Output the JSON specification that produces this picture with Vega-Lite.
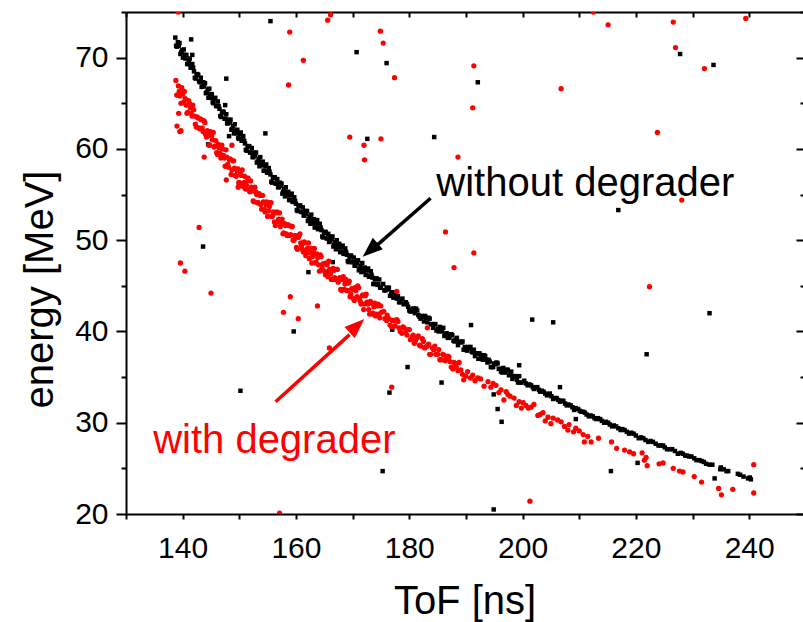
{
"$schema":"https://vega.github.io/schema/vega-lite/v6.json",
"width":677,"height":502,
"autosize":{"type":"none"},
"padding":{"left":126,"top":12,"right":0,"bottom":108},
"background":"white",
"config":{"view":{"stroke":null},"font":"Liberation Sans","axis":{"labelFont":"Liberation Sans","titleFont":"Liberation Sans","labelColor":"#000000","titleColor":"#000000","tickColor":"#000000","domainColor":"#000000","grid":false}},
"datasets":{
"black":[
{"t":138.7,"e":72.2},{"t":139.0,"e":71.2},{"t":139.3,"e":71.3},{"t":139.6,"e":70.4},{"t":139.9,"e":70.8},{"t":140.2,"e":70.9},{"t":140.5,"e":69.9},{"t":140.8,"e":69.3},{"t":141.1,"e":69.7},{"t":141.4,"e":68.9},{"t":141.7,"e":69.3},{"t":142.0,"e":68.5},{"t":142.3,"e":67.7},{"t":142.6,"e":68.2},{"t":142.9,"e":67.4},{"t":143.2,"e":67.8},{"t":143.5,"e":66.8},{"t":143.8,"e":66.9},{"t":144.1,"e":66.1},{"t":144.4,"e":66.5},{"t":144.7,"e":66.6},{"t":145.0,"e":65.6},{"t":145.3,"e":65.1},{"t":145.6,"e":65.5},{"t":145.9,"e":64.7},{"t":146.2,"e":65.2},{"t":146.5,"e":64.4},{"t":146.8,"e":63.5},{"t":147.1,"e":64.1},{"t":147.4,"e":63.3},{"t":147.7,"e":63.8},{"t":148.0,"e":62.8},{"t":148.3,"e":62.9},{"t":148.6,"e":62.1},{"t":148.9,"e":62.5},{"t":149.2,"e":62.7},{"t":149.5,"e":61.7},{"t":149.8,"e":61.2},{"t":150.1,"e":61.6},{"t":150.4,"e":60.9},{"t":150.7,"e":61.4},{"t":151.0,"e":60.6},{"t":151.3,"e":59.8},{"t":151.6,"e":60.3},{"t":151.9,"e":59.6},{"t":152.2,"e":60.1},{"t":152.5,"e":59.1},{"t":152.8,"e":59.3},{"t":153.1,"e":58.5},{"t":153.4,"e":58.9},{"t":153.7,"e":59.1},{"t":154.0,"e":58.2},{"t":154.3,"e":57.6},{"t":154.6,"e":58.1},{"t":154.9,"e":57.4},{"t":155.2,"e":57.9},{"t":155.5,"e":57.2},{"t":155.8,"e":56.3},{"t":156.1,"e":56.9},{"t":156.4,"e":56.2},{"t":156.7,"e":56.7},{"t":157.0,"e":55.8},{"t":157.3,"e":56.0},{"t":157.6,"e":55.1},{"t":157.9,"e":55.6},{"t":158.2,"e":55.8},{"t":158.5,"e":54.9},{"t":158.8,"e":54.4},{"t":159.1,"e":54.9},{"t":159.4,"e":54.2},{"t":159.7,"e":54.7},{"t":160.0,"e":54.0},{"t":160.3,"e":53.2},{"t":160.6,"e":53.8},{"t":160.9,"e":53.1},{"t":161.2,"e":53.6},{"t":161.5,"e":52.7},{"t":161.8,"e":52.9},{"t":162.1,"e":52.1},{"t":162.4,"e":52.6},{"t":162.7,"e":52.8},{"t":163.0,"e":51.9},{"t":163.3,"e":51.4},{"t":163.6,"e":51.9},{"t":163.9,"e":51.2},{"t":164.2,"e":51.8},{"t":164.5,"e":51.1},{"t":164.8,"e":50.3},{"t":165.1,"e":50.9},{"t":165.4,"e":50.2},{"t":165.7,"e":50.7},{"t":166.0,"e":49.9},{"t":166.3,"e":50.1},{"t":166.6,"e":49.3},{"t":166.9,"e":49.8},{"t":167.2,"e":50.0},{"t":167.5,"e":49.2},{"t":167.8,"e":48.7},{"t":168.1,"e":49.2},{"t":168.4,"e":48.5},{"t":168.7,"e":49.1},{"t":169.0,"e":48.4},{"t":169.3,"e":47.6},{"t":169.6,"e":48.3},{"t":169.9,"e":47.6},{"t":170.2,"e":48.1},{"t":170.5,"e":47.2},{"t":170.8,"e":47.5},{"t":171.1,"e":46.7},{"t":171.4,"e":47.2},{"t":171.7,"e":47.5},{"t":172.0,"e":46.6},{"t":172.3,"e":46.2},{"t":172.6,"e":46.7},{"t":172.9,"e":46.0},{"t":173.2,"e":46.6},{"t":173.5,"e":45.9},{"t":173.8,"e":45.2},{"t":174.1,"e":45.8},{"t":174.4,"e":45.1},{"t":174.7,"e":45.7},{"t":175.0,"e":44.8},
{"t":138.85,"e":71.3},{"t":139.15,"e":71.7},{"t":139.45,"e":71.6},{"t":139.75,"e":70.6},{"t":140.05,"e":70.0},{"t":140.35,"e":70.3},{"t":140.65,"e":70.3},{"t":140.95,"e":69.3},{"t":141.25,"e":69.9},{"t":141.55,"e":68.9},{"t":141.85,"e":68.9},{"t":142.15,"e":67.8},{"t":142.45,"e":68.1},{"t":142.75,"e":68.1},{"t":143.05,"e":67.3},{"t":143.35,"e":66.8},{"t":143.65,"e":67.3},{"t":143.95,"e":67.2},{"t":144.25,"e":66.2},{"t":144.55,"e":65.6},{"t":144.85,"e":66.0},{"t":145.15,"e":66.0},{"t":145.45,"e":65.0},{"t":145.75,"e":65.6},{"t":146.05,"e":64.7},{"t":146.35,"e":64.7},{"t":146.65,"e":63.6},{"t":146.95,"e":64.0},{"t":147.25,"e":64.0},{"t":147.55,"e":63.3},{"t":147.85,"e":62.8},{"t":148.15,"e":63.2},{"t":148.45,"e":63.2},{"t":148.75,"e":62.2},{"t":149.05,"e":61.7},{"t":149.35,"e":62.0},{"t":149.65,"e":62.1},{"t":149.95,"e":61.1},{"t":150.25,"e":61.8},{"t":150.55,"e":60.9},{"t":150.85,"e":60.9},{"t":151.15,"e":59.9},{"t":151.45,"e":60.3},{"t":151.75,"e":60.3},{"t":152.05,"e":59.6},{"t":152.35,"e":59.1},{"t":152.65,"e":59.6},{"t":152.95,"e":59.6},{"t":153.25,"e":58.6},{"t":153.55,"e":58.1},{"t":153.85,"e":58.5},{"t":154.15,"e":58.6},{"t":154.45,"e":57.6},{"t":154.75,"e":58.3},{"t":155.05,"e":57.4},{"t":155.35,"e":57.5},{"t":155.65,"e":56.4},{"t":155.95,"e":56.8},{"t":156.25,"e":56.9},{"t":156.55,"e":56.2},{"t":156.85,"e":55.8},{"t":157.15,"e":56.3},{"t":157.45,"e":56.2},{"t":157.75,"e":55.3},{"t":158.05,"e":54.8},{"t":158.35,"e":55.2},{"t":158.65,"e":55.3},{"t":158.95,"e":54.4},{"t":159.25,"e":55.1},{"t":159.55,"e":54.2},{"t":159.85,"e":54.3},{"t":160.15,"e":53.3},{"t":160.45,"e":53.7},{"t":160.75,"e":53.8},{"t":161.05,"e":53.1},{"t":161.35,"e":52.7},{"t":161.65,"e":53.2},{"t":161.95,"e":53.2},{"t":162.25,"e":52.3},{"t":162.55,"e":51.8},{"t":162.85,"e":52.2},{"t":163.15,"e":52.3},{"t":163.45,"e":51.4},{"t":163.75,"e":52.2},{"t":164.05,"e":51.3},{"t":164.35,"e":51.4},{"t":164.65,"e":50.4},{"t":164.95,"e":50.8},{"t":165.25,"e":50.9},{"t":165.55,"e":50.2},{"t":165.85,"e":49.8},{"t":166.15,"e":50.4},{"t":166.45,"e":50.4},{"t":166.75,"e":49.5},{"t":167.05,"e":49.0},{"t":167.35,"e":49.4},{"t":167.65,"e":49.6},{"t":167.95,"e":48.7},{"t":168.25,"e":49.4},{"t":168.55,"e":48.6},{"t":168.85,"e":48.7},{"t":169.15,"e":47.7},{"t":169.45,"e":48.1},{"t":169.75,"e":48.3},{"t":170.05,"e":47.6},{"t":170.35,"e":47.2},{"t":170.65,"e":47.8},{"t":170.95,"e":47.8},{"t":171.25,"e":46.9},{"t":171.55,"e":46.5},{"t":171.85,"e":46.9},{"t":172.15,"e":47.0},{"t":172.45,"e":46.2},{"t":172.75,"e":46.9},{"t":173.05,"e":46.0},{"t":173.35,"e":46.2},{"t":173.65,"e":45.2},{"t":173.95,"e":45.7},{"t":174.25,"e":45.8},{"t":174.55,"e":45.2},{"t":174.85,"e":44.8},
{"t":175.4,"e":45.2},{"t":175.8,"e":44.5},{"t":176.2,"e":44.6},{"t":176.6,"e":43.9},{"t":177.0,"e":44.3},{"t":177.4,"e":44.3},{"t":177.8,"e":43.6},{"t":178.2,"e":43.2},{"t":178.6,"e":43.5},{"t":179.0,"e":43.0},{"t":179.4,"e":43.2},{"t":179.8,"e":42.7},{"t":180.2,"e":42.2},{"t":180.6,"e":42.5},{"t":181.0,"e":42.0},{"t":181.4,"e":42.3},{"t":181.8,"e":41.6},{"t":182.2,"e":41.7},{"t":182.6,"e":41.1},{"t":183.0,"e":41.5},{"t":183.4,"e":41.5},{"t":183.8,"e":40.8},{"t":184.2,"e":40.4},{"t":184.6,"e":40.8},{"t":185.0,"e":40.3},{"t":185.4,"e":40.5},{"t":185.8,"e":40.0},{"t":186.2,"e":39.5},{"t":186.6,"e":39.8},{"t":187.0,"e":39.3},{"t":187.4,"e":39.7},{"t":187.8,"e":39.0},{"t":188.2,"e":39.1},{"t":188.6,"e":38.5},{"t":189.0,"e":38.9},{"t":189.4,"e":38.9},{"t":189.8,"e":38.3},{"t":190.2,"e":37.9},{"t":190.6,"e":38.2},{"t":191.0,"e":37.8},{"t":191.4,"e":38.0},{"t":191.8,"e":37.6},{"t":192.2,"e":37.0},{"t":192.6,"e":37.4},{"t":193.0,"e":36.9},{"t":193.4,"e":37.3},{"t":193.8,"e":36.6},{"t":194.2,"e":36.7},{"t":194.6,"e":36.1},{"t":195.0,"e":36.5},{"t":195.4,"e":36.6},{"t":195.8,"e":35.9},{"t":196.2,"e":35.6},{"t":196.6,"e":36.0},{"t":197.0,"e":35.5},{"t":197.4,"e":35.8},{"t":197.8,"e":35.3},{"t":198.2,"e":34.8},{"t":198.6,"e":35.1},{"t":199.0,"e":34.7},{"t":199.4,"e":35.1},{"t":199.8,"e":34.4},
{"t":175.6,"e":44.5},{"t":176.0,"e":44.8},{"t":176.4,"e":44.8},{"t":176.8,"e":44.1},{"t":177.2,"e":43.7},{"t":177.6,"e":43.9},{"t":178.0,"e":43.9},{"t":178.4,"e":43.2},{"t":178.8,"e":43.6},{"t":179.2,"e":43.0},{"t":179.6,"e":43.0},{"t":180.0,"e":42.3},{"t":180.4,"e":42.2},{"t":180.8,"e":42.5},{"t":181.2,"e":42.5},{"t":181.6,"e":41.8},{"t":182.0,"e":41.4},{"t":182.4,"e":41.6},{"t":182.8,"e":41.7},{"t":183.2,"e":41.0},{"t":183.6,"e":41.4},{"t":184.0,"e":40.8},{"t":184.4,"e":40.8},{"t":184.8,"e":40.1},{"t":185.2,"e":40.0},{"t":185.6,"e":40.3},{"t":186.0,"e":40.4},{"t":186.4,"e":39.7},{"t":186.8,"e":39.3},{"t":187.2,"e":39.5},{"t":187.6,"e":39.6},{"t":188.0,"e":38.9},{"t":188.4,"e":39.3},{"t":188.8,"e":38.8},{"t":189.2,"e":38.8},{"t":189.6,"e":38.0},{"t":190.0,"e":38.0},{"t":190.4,"e":38.3},{"t":190.8,"e":38.3},{"t":191.2,"e":37.7},{"t":191.6,"e":37.3},{"t":192.0,"e":37.6},{"t":192.4,"e":37.6},{"t":192.8,"e":37.0},{"t":193.2,"e":37.4},{"t":193.6,"e":36.9},{"t":194.0,"e":36.9},{"t":194.4,"e":36.1},{"t":194.8,"e":36.1},{"t":195.2,"e":36.4},{"t":195.6,"e":36.5},{"t":196.0,"e":35.9},{"t":196.4,"e":35.5},{"t":196.8,"e":35.8},{"t":197.2,"e":35.8},{"t":197.6,"e":35.2},{"t":198.0,"e":35.6},{"t":198.4,"e":35.1},{"t":198.8,"e":35.1},{"t":199.2,"e":34.4},{"t":199.6,"e":34.4},
{"t":200.3,"e":34.6},{"t":200.9,"e":34.1},{"t":201.5,"e":34.1},{"t":202.0,"e":33.7},{"t":202.6,"e":33.9},{"t":203.1,"e":33.4},{"t":203.7,"e":33.4},{"t":204.3,"e":33.0},{"t":204.8,"e":33.2},{"t":205.4,"e":32.6},{"t":206.0,"e":32.7},{"t":206.6,"e":32.3},{"t":207.2,"e":32.4},{"t":207.8,"e":31.9},{"t":208.5,"e":31.9},{"t":209.1,"e":31.4},{"t":209.8,"e":31.5},{"t":210.4,"e":31.2},{"t":211.0,"e":31.1},{"t":211.7,"e":30.7},{"t":212.4,"e":30.7},{"t":213.0,"e":30.4},{"t":213.7,"e":30.4},{"t":214.4,"e":30.0},{"t":215.1,"e":30.0},{"t":215.8,"e":29.6},{"t":216.5,"e":29.6},{"t":217.3,"e":29.2},{"t":218.0,"e":29.2},{"t":218.8,"e":28.8},{"t":219.6,"e":28.8},{"t":220.5,"e":28.3},{"t":221.3,"e":28.3},{"t":222.2,"e":27.9},{"t":223.0,"e":27.9},{"t":224.0,"e":27.5},{"t":224.8,"e":27.5},{"t":225.5,"e":27.1},{"t":226.4,"e":27.1},{"t":227.4,"e":26.6},{"t":228.3,"e":26.6},{"t":229.0,"e":26.4},{"t":229.8,"e":26.3},{"t":230.7,"e":25.9},{"t":231.6,"e":25.8},{"t":232.4,"e":25.5},{"t":233.5,"e":25.4},{"t":235.0,"e":25.1},{"t":235.5,"e":24.9},{"t":236.0,"e":24.7},{"t":238.0,"e":24.4},{"t":239.0,"e":24.1},{"t":239.8,"e":23.9},{"t":240.3,"e":23.8},
{"t":200.6,"e":34.3},{"t":201.2,"e":34.2},{"t":201.8,"e":33.9},{"t":202.3,"e":33.8},{"t":202.9,"e":33.6},{"t":203.4,"e":33.5},{"t":204.0,"e":33.2},{"t":204.6,"e":33.1},{"t":205.1,"e":32.9},{"t":205.7,"e":32.7},{"t":206.3,"e":32.5},{"t":206.9,"e":32.4},{"t":207.5,"e":32.1},{"t":208.1,"e":32.0},{"t":208.8,"e":31.7},{"t":209.4,"e":31.6},{"t":210.1,"e":31.3},{"t":210.7,"e":31.2},{"t":211.3,"e":30.9},{"t":212.0,"e":30.8},{"t":212.7,"e":30.5},{"t":213.3,"e":30.5},{"t":214.0,"e":30.2},{"t":214.7,"e":30.1},{"t":215.4,"e":29.8},{"t":216.1,"e":29.7},{"t":216.9,"e":29.4},{"t":217.6,"e":29.3},{"t":218.4,"e":29.0},{"t":219.2,"e":28.9},{"t":220.0,"e":28.6},{"t":220.9,"e":28.4},{"t":221.7,"e":28.1},{"t":222.6,"e":28.0},{"t":223.5,"e":27.7},{"t":224.4,"e":27.5},{"t":225.1,"e":27.3},{"t":226.0,"e":27.1},{"t":226.9,"e":26.9},{"t":227.9,"e":26.7},{"t":228.7,"e":26.4},{"t":229.4,"e":26.3},{"t":230.3,"e":26.1},{"t":231.2,"e":25.9},{"t":232.0,"e":25.7},{"t":233.0,"e":25.4},{"t":234.9,"e":24.9},{"t":236.3,"e":24.7},{"t":238.4,"e":24.3},{"t":240.1,"e":24.0},
{"t":155.5,"e":74.0},{"t":147.7,"e":67.7},{"t":154.6,"e":61.7},{"t":144.5,"e":60.5},{"t":170.7,"e":70.6},{"t":176.0,"e":69.4},{"t":227.8,"e":70.4},{"t":233.7,"e":69.2},{"t":172.6,"e":61.1},{"t":192.1,"e":67.3},{"t":184.4,"e":61.3},{"t":143.6,"e":49.3},{"t":150.2,"e":33.5},{"t":159.6,"e":40.0},{"t":190.9,"e":40.7},{"t":179.7,"e":36.1},{"t":185.7,"e":34.4},{"t":176.5,"e":33.3},{"t":194.9,"e":33.1},{"t":177.0,"e":40.2},{"t":201.7,"e":41.3},{"t":205.4,"e":41.0},{"t":199.4,"e":36.3},{"t":206.6,"e":33.9},{"t":195.6,"e":31.5},{"t":196.3,"e":30.1},{"t":209.4,"e":30.4},{"t":215.6,"e":24.7},{"t":220.3,"e":25.6},{"t":233.9,"e":23.9},{"t":175.3,"e":24.7},{"t":194.9,"e":20.5},{"t":216.9,"e":53.3},{"t":221.9,"e":37.5},{"t":233.0,"e":42.0},{"t":166.5,"e":47.6},{"t":165.4,"e":46.5},{"t":162.2,"e":46.5},{"t":141.5,"e":72.0},{"t":141.7,"e":70.3},{"t":147.5,"e":64.8},{"t":148.2,"e":61.4}
],
"red":[
{"t":138.8,"e":67.5},{"t":139.1,"e":65.9},{"t":139.4,"e":66.3},{"t":139.7,"e":65.0},{"t":140.0,"e":66.0},{"t":140.3,"e":66.3},{"t":140.6,"e":64.8},{"t":140.9,"e":64.0},{"t":141.2,"e":65.0},{"t":141.5,"e":63.9},{"t":141.8,"e":64.8},{"t":142.1,"e":63.6},{"t":142.4,"e":62.4},{"t":142.7,"e":63.4},{"t":143.0,"e":62.2},{"t":143.3,"e":63.2},{"t":143.6,"e":61.9},{"t":143.9,"e":62.9},{"t":144.2,"e":61.3},{"t":144.5,"e":61.7},{"t":144.8,"e":60.4},{"t":145.1,"e":61.4},{"t":145.4,"e":61.8},{"t":145.7,"e":60.3},{"t":146.0,"e":59.6},{"t":146.3,"e":60.5},{"t":146.6,"e":59.5},{"t":146.9,"e":60.4},{"t":147.2,"e":59.3},{"t":147.5,"e":58.1},{"t":147.8,"e":59.1},{"t":148.1,"e":58.0},{"t":148.4,"e":58.9},{"t":148.7,"e":57.7},{"t":149.0,"e":58.7},{"t":149.3,"e":57.1},{"t":149.6,"e":57.6},{"t":149.9,"e":56.3},{"t":150.2,"e":57.3},{"t":150.5,"e":57.7},{"t":150.8,"e":56.3},{"t":151.1,"e":55.6},{"t":151.4,"e":56.5},{"t":151.7,"e":55.5},{"t":152.0,"e":56.5},{"t":152.3,"e":55.4},{"t":152.6,"e":54.2},{"t":152.9,"e":55.3},{"t":153.2,"e":54.1},{"t":153.5,"e":55.1},{"t":153.8,"e":53.9},{"t":154.1,"e":54.9},{"t":154.4,"e":53.4},{"t":154.7,"e":53.9},{"t":155.0,"e":52.6},{"t":155.3,"e":53.7},{"t":155.6,"e":54.1},{"t":155.9,"e":52.7},{"t":156.2,"e":52.0},{"t":156.5,"e":53.0},{"t":156.8,"e":52.0},{"t":157.1,"e":53.0},{"t":157.4,"e":51.9},{"t":157.7,"e":50.7},{"t":158.0,"e":51.8},{"t":158.3,"e":50.7},{"t":158.6,"e":51.7},{"t":158.9,"e":50.5},{"t":159.2,"e":51.5},{"t":159.5,"e":50.0},{"t":159.8,"e":50.5},{"t":160.1,"e":49.2},{"t":160.4,"e":50.3},{"t":160.7,"e":50.7},{"t":161.0,"e":49.4},{"t":161.3,"e":48.7},{"t":161.6,"e":49.7},{"t":161.9,"e":48.7},{"t":162.2,"e":49.7},{"t":162.5,"e":48.6},{"t":162.8,"e":47.5},{"t":163.1,"e":48.6},{"t":163.4,"e":47.5},{"t":163.7,"e":48.5},{"t":164.0,"e":47.3},{"t":164.3,"e":48.4},{"t":164.6,"e":46.9},{"t":164.9,"e":47.4},{"t":165.2,"e":46.2},{"t":165.5,"e":47.3},{"t":165.8,"e":47.7},{"t":166.1,"e":46.3},{"t":166.4,"e":45.7},{"t":166.7,"e":46.7},{"t":167.0,"e":45.7},{"t":167.3,"e":46.8},{"t":167.6,"e":45.7},{"t":167.9,"e":44.6},{"t":168.2,"e":45.7},{"t":168.5,"e":44.6},{"t":168.8,"e":45.7},{"t":169.1,"e":44.5},{"t":169.4,"e":45.5},{"t":169.7,"e":44.1},{"t":170.0,"e":44.6},{"t":170.3,"e":43.4},{"t":170.6,"e":44.5},{"t":170.9,"e":45.0},{"t":171.2,"e":43.6},{"t":171.5,"e":43.0},{"t":171.8,"e":44.0},{"t":172.1,"e":43.0},{"t":172.4,"e":44.1},{"t":172.7,"e":43.0},{"t":173.0,"e":41.9},{"t":173.3,"e":43.1},{"t":173.6,"e":42.0},{"t":173.9,"e":43.1},{"t":174.2,"e":41.9},{"t":174.5,"e":43.0},{"t":174.8,"e":41.5},{"t":175.1,"e":42.1},
{"t":138.95,"e":65.9},{"t":139.25,"e":66.9},{"t":139.55,"e":65.8},{"t":139.85,"e":66.7},{"t":140.15,"e":65.1},{"t":140.45,"e":65.5},{"t":140.75,"e":63.9},{"t":141.05,"e":65.3},{"t":141.35,"e":64.5},{"t":141.65,"e":63.6},{"t":141.95,"e":64.3},{"t":142.25,"e":62.7},{"t":142.55,"e":63.5},{"t":142.85,"e":62.3},{"t":143.15,"e":63.3},{"t":143.45,"e":62.3},{"t":143.75,"e":63.1},{"t":144.05,"e":61.6},{"t":144.35,"e":62.0},{"t":144.65,"e":60.4},{"t":144.95,"e":61.9},{"t":145.25,"e":61.0},{"t":145.55,"e":60.2},{"t":145.85,"e":60.9},{"t":146.15,"e":59.4},{"t":146.45,"e":60.1},{"t":146.75,"e":59.0},{"t":147.05,"e":60.0},{"t":147.35,"e":59.0},{"t":147.65,"e":59.9},{"t":147.95,"e":58.3},{"t":148.25,"e":58.8},{"t":148.55,"e":57.2},{"t":148.85,"e":58.7},{"t":149.15,"e":57.9},{"t":149.45,"e":57.0},{"t":149.75,"e":57.8},{"t":150.05,"e":56.3},{"t":150.35,"e":57.1},{"t":150.65,"e":55.9},{"t":150.95,"e":57.0},{"t":151.25,"e":56.0},{"t":151.55,"e":56.8},{"t":151.85,"e":55.3},{"t":152.15,"e":55.8},{"t":152.45,"e":54.3},{"t":152.75,"e":55.8},{"t":153.05,"e":55.0},{"t":153.35,"e":54.1},{"t":153.65,"e":54.9},{"t":153.95,"e":53.4},{"t":154.25,"e":54.2},{"t":154.55,"e":53.1},{"t":154.85,"e":54.2},{"t":155.15,"e":53.2},{"t":155.45,"e":54.1},{"t":155.75,"e":52.6},{"t":156.05,"e":53.1},{"t":156.35,"e":51.6},{"t":156.65,"e":53.1},{"t":156.95,"e":52.3},{"t":157.25,"e":51.5},{"t":157.55,"e":52.3},{"t":157.85,"e":50.8},{"t":158.15,"e":51.6},{"t":158.45,"e":50.5},{"t":158.75,"e":51.6},{"t":159.05,"e":50.6},{"t":159.35,"e":51.5},{"t":159.65,"e":50.0},{"t":159.95,"e":50.5},{"t":160.25,"e":49.0},{"t":160.55,"e":50.5},{"t":160.85,"e":49.7},{"t":161.15,"e":49.0},{"t":161.45,"e":49.8},{"t":161.75,"e":48.3},{"t":162.05,"e":49.1},{"t":162.35,"e":48.0},{"t":162.65,"e":49.1},{"t":162.95,"e":48.2},{"t":163.25,"e":49.1},{"t":163.55,"e":47.6},{"t":163.85,"e":48.1},{"t":164.15,"e":46.6},{"t":164.45,"e":48.2},{"t":164.75,"e":47.4},{"t":165.05,"e":46.6},{"t":165.35,"e":47.5},{"t":165.65,"e":46.0},{"t":165.95,"e":46.8},{"t":166.25,"e":45.7},{"t":166.55,"e":46.9},{"t":166.85,"e":45.9},{"t":167.15,"e":46.8},{"t":167.45,"e":45.4},{"t":167.75,"e":45.9},{"t":168.05,"e":44.5},{"t":168.35,"e":46.0},{"t":168.65,"e":45.2},{"t":168.95,"e":44.5},{"t":169.25,"e":45.3},{"t":169.55,"e":43.8},{"t":169.85,"e":44.7},{"t":170.15,"e":43.6},{"t":170.45,"e":44.8},{"t":170.75,"e":43.8},{"t":171.05,"e":44.8},{"t":171.35,"e":43.3},{"t":171.65,"e":43.9},{"t":171.95,"e":42.4},{"t":172.25,"e":43.9},{"t":172.55,"e":43.2},{"t":172.85,"e":42.4},{"t":173.15,"e":43.3},{"t":173.45,"e":41.9},{"t":173.75,"e":42.7},{"t":174.05,"e":41.7},{"t":174.35,"e":42.8},{"t":174.65,"e":41.9},{"t":174.95,"e":42.8},
{"t":175.5,"e":42.2},{"t":176.0,"e":41.2},{"t":176.4,"e":41.4},{"t":176.9,"e":40.5},{"t":177.3,"e":41.2},{"t":177.8,"e":41.3},{"t":178.2,"e":40.4},{"t":178.7,"e":39.8},{"t":179.1,"e":40.4},{"t":179.6,"e":39.6},{"t":180.0,"e":40.2},{"t":180.5,"e":39.4},{"t":180.9,"e":38.7},{"t":181.4,"e":39.3},{"t":181.8,"e":38.5},{"t":182.3,"e":39.2},{"t":182.7,"e":38.2},{"t":183.2,"e":38.4},{"t":183.6,"e":37.5},{"t":184.1,"e":38.2},{"t":184.5,"e":38.4},{"t":185.0,"e":37.5},{"t":185.4,"e":36.9},{"t":185.9,"e":37.5},{"t":186.3,"e":36.8},{"t":186.8,"e":37.3},{"t":187.2,"e":36.7},{"t":187.7,"e":35.9},{"t":188.1,"e":36.5},{"t":188.6,"e":35.7},
{"t":175.7,"e":41.4},{"t":176.1,"e":41.8},{"t":176.6,"e":40.7},{"t":177.0,"e":41.2},{"t":177.5,"e":40.6},{"t":178.0,"e":41.1},{"t":178.4,"e":40.0},{"t":178.9,"e":40.5},{"t":179.3,"e":39.9},{"t":179.8,"e":40.2},{"t":180.2,"e":39.1},{"t":180.7,"e":39.6},{"t":181.1,"e":39.0},{"t":181.6,"e":39.5},{"t":182.0,"e":38.4},{"t":182.5,"e":38.9},{"t":182.9,"e":38.3},{"t":183.4,"e":38.6},{"t":183.8,"e":37.5},{"t":184.3,"e":38.0},{"t":184.7,"e":37.5},{"t":185.2,"e":38.0},{"t":185.6,"e":36.9},{"t":186.1,"e":37.4},{"t":186.5,"e":36.9},{"t":187.0,"e":37.2},{"t":187.4,"e":36.1},{"t":187.9,"e":36.6},{"t":188.3,"e":36.1},{"t":188.8,"e":36.6},
{"t":189.1,"e":35.8},{"t":190.3,"e":35.6},{"t":191.2,"e":35.2},{"t":189.6,"e":34.7},{"t":192.1,"e":34.9},{"t":192.6,"e":34.8},{"t":193.9,"e":34.5},{"t":194.8,"e":34.3},{"t":195.3,"e":34.1},{"t":194.4,"e":33.9},{"t":196.2,"e":33.6},{"t":197.1,"e":33.4},{"t":197.4,"e":33.1},{"t":196.7,"e":32.5},{"t":198.5,"e":32.7},{"t":199.4,"e":32.3},{"t":198.9,"e":31.9},{"t":200.1,"e":32.2},{"t":200.6,"e":31.9},{"t":201.5,"e":31.7},{"t":201.0,"e":31.6},{"t":202.0,"e":32.0},{"t":202.7,"e":30.8},{"t":203.6,"e":31.1},{"t":204.5,"e":30.6},{"t":205.4,"e":30.5},{"t":205.0,"e":29.9},{"t":206.2,"e":30.3},{"t":206.8,"e":30.1},{"t":208.2,"e":29.8},{"t":208.0,"e":29.2},{"t":209.4,"e":29.4},{"t":210.0,"e":29.1},{"t":210.7,"e":28.7},{"t":210.9,"e":27.9},{"t":212.1,"e":27.9},{"t":213.4,"e":28.3},{"t":215.7,"e":27.9},{"t":216.6,"e":27.2},{"t":218.0,"e":27.0},{"t":218.9,"e":26.8},{"t":219.6,"e":26.6},{"t":221.1,"e":26.7},{"t":221.5,"e":25.9},{"t":222.0,"e":25.3},{"t":221.8,"e":26.2},{"t":224.1,"e":25.5},{"t":224.8,"e":25.6},{"t":226.6,"e":25.0},{"t":227.7,"e":24.7},{"t":228.3,"e":24.6},{"t":230.3,"e":24.1},{"t":231.6,"e":23.5},{"t":234.6,"e":22.8},{"t":235.1,"e":22.1},{"t":237.1,"e":22.7},{"t":240.8,"e":25.4},{"t":240.8,"e":22.3},
{"t":189.4,"e":35.3},{"t":190.0,"e":35.1},{"t":190.8,"e":34.9},{"t":191.6,"e":34.6},{"t":193.2,"e":34.0},{"t":195.8,"e":33.3},{"t":197.8,"e":32.9},{"t":199.8,"e":31.6},{"t":203.1,"e":30.9},{"t":204.0,"e":30.2},{"t":207.4,"e":29.6},{"t":209.0,"e":29.0},{"t":211.5,"e":28.5},
{"t":139.0,"e":62.5},{"t":139.5,"e":61.9},{"t":139.3,"e":63.9},{"t":139.7,"e":62.0},{"t":143.8,"e":59.1},{"t":148.7,"e":60.4},{"t":147.7,"e":56.6},{"t":149.8,"e":55.8},{"t":150.0,"e":56.0},
{"t":158.7,"e":67.0},{"t":161.3,"e":69.7},{"t":158.9,"e":72.8},{"t":165.6,"e":74.1},{"t":166.1,"e":74.7},{"t":174.9,"e":72.9},{"t":175.4,"e":71.6},{"t":177.4,"e":67.8},{"t":169.5,"e":61.3},{"t":172.0,"e":60.4},{"t":172.1,"e":58.8},{"t":175.0,"e":61.1},{"t":212.5,"e":75.0},{"t":215.1,"e":73.6},{"t":226.6,"e":73.9},{"t":227.0,"e":71.1},{"t":232.1,"e":68.8},{"t":239.4,"e":74.3},{"t":206.8,"e":66.6},{"t":223.8,"e":61.8},{"t":191.2,"e":64.5},{"t":191.4,"e":69.1},{"t":188.6,"e":59.1},{"t":186.4,"e":50.9},{"t":191.4,"e":48.6},{"t":187.9,"e":47.0},{"t":183.2,"e":40.4},{"t":177.8,"e":44.4},{"t":176.9,"e":33.9},{"t":157.8,"e":42.1},{"t":160.4,"e":41.4},{"t":163.8,"e":42.8},{"t":165.9,"e":38.2},{"t":159.0,"e":43.8},{"t":139.6,"e":47.5},{"t":140.4,"e":46.6},{"t":142.9,"e":51.4},{"t":145.0,"e":44.2},{"t":201.3,"e":21.4},{"t":157.1,"e":20.1},{"t":228.1,"e":54.4},{"t":222.4,"e":44.9},{"t":139.2,"e":75.0}
],
"notes":[
{"t":184.77,"e":54.84,"label":"without degrader","series":"without degrader"},
{"t":134.79,"e":26.68,"label":"with degrader","series":"with degrader"}
],
"arrows":[
{"t":183.76,"e":54.59,"t2":174.43,"e2":49.51,"tipT":171.78,"tipE":48.19,"series":"without degrader"},
{"t":156.41,"e":32.30,"t2":169.47,"e2":39.65,"tipT":172.06,"tipE":41.36,"series":"with degrader"}
]
},
"resolve":{"axis":{"x":"independent","y":"independent"}},
"layer":[
{"data":{"name":"black"},
 "mark":{"type":"square","filled":true,"size":20,"color":"#000000","opacity":1,"clip":true},
 "encoding":{
  "x":{"field":"t","type":"quantitative","scale":{"domain":[130,249.5],"nice":false,"zero":false},
   "axis":{"orient":"bottom","values":[130,140,150,160,170,180,190,200,210,220,230,240],"labelExpr":"datum.value % 20 == 0 ? datum.label : ''","labelFontSize":30,"labelPadding":14,"labelFlush":false,"labelOverlap":false,"tickSize":5,"tickWidth":2,"domainWidth":2,"title":"ToF [ns]","titleFontSize":40,"titleFontWeight":"normal","titleBaseline":"alphabetic","titleY":99}},
  "y":{"field":"e","type":"quantitative","scale":{"domain":[20,75],"nice":false,"zero":false},
   "axis":{"orient":"left","values":[20,25,30,35,40,45,50,55,60,65,70,75],"labelExpr":"datum.value % 10 == 0 ? datum.label : ''","labelFontSize":30,"labelPadding":8,"labelFlush":false,"labelOverlap":false,"tickSize":{"condition":{"test":"datum.value % 10 == 0","value":10},"value":5},"tickWidth":2,"domainWidth":2,"title":"energy [MeV]","titleFontSize":40,"titleFontWeight":"normal","titleAngle":270,"titleBaseline":"alphabetic","titleAlign":"center","titleX":-74,"titleY":277}}
 }},
{"data":{"name":"red"},
 "mark":{"type":"circle","size":28,"color":"#ff0000","opacity":1,"clip":true},
 "encoding":{
  "x":{"field":"t","type":"quantitative","scale":{"domain":[130,249.5],"nice":false,"zero":false},
   "axis":{"orient":"top","values":[130,140,150,160,170,180,190,200,210,220,230,240],"labels":false,"tickSize":-5,"tickWidth":2,"domainWidth":2,"title":null}},
  "y":{"field":"e","type":"quantitative","scale":{"domain":[20,75],"nice":false,"zero":false},
   "axis":{"orient":"right","values":[20,25,30,35,40,45,50,55,60,65,70,75],"labels":false,"tickSize":{"condition":{"test":"datum.value % 10 == 0","value":-7},"value":-3},"tickWidth":2,"domain":false,"title":null}}
 }},
{"data":{"name":"arrows"},
 "mark":{"type":"rule","strokeWidth":3.5},
 "encoding":{
  "x":{"field":"t","type":"quantitative","axis":null},"y":{"field":"e","type":"quantitative","axis":null},
  "x2":{"field":"t2"},"y2":{"field":"e2"},
  "color":{"field":"series","type":"nominal","scale":{"domain":["without degrader","with degrader"],"range":["#000000","#ff0000"]},"legend":null}
 }},
{"data":{"name":"arrows"},
 "transform":[{"filter":"datum.series == 'without degrader'"}],
 "mark":{"type":"point","shape":"M0,0L-0.38,1L0.38,1Z","filled":true,"size":1600,"angle":229,"color":"#000000","opacity":1,"strokeWidth":0},
 "encoding":{"x":{"field":"tipT","type":"quantitative","axis":null},"y":{"field":"tipE","type":"quantitative","axis":null}}},
{"data":{"name":"arrows"},
 "transform":[{"filter":"datum.series == 'with degrader'"}],
 "mark":{"type":"point","shape":"M0,0L-0.38,1L0.38,1Z","filled":true,"size":1600,"angle":47,"color":"#ff0000","opacity":1,"strokeWidth":0},
 "encoding":{"x":{"field":"tipT","type":"quantitative","axis":null},"y":{"field":"tipE","type":"quantitative","axis":null}}},
{"data":{"name":"notes"},
 "mark":{"type":"text","align":"left","baseline":"alphabetic","fontSize":40,"font":"Liberation Sans"},
 "encoding":{
  "x":{"field":"t","type":"quantitative","axis":null},"y":{"field":"e","type":"quantitative","axis":null},
  "text":{"field":"label"},
  "color":{"field":"series","type":"nominal","scale":{"domain":["without degrader","with degrader"],"range":["#000000","#ff0000"]},"legend":null}
 }}
]
}
